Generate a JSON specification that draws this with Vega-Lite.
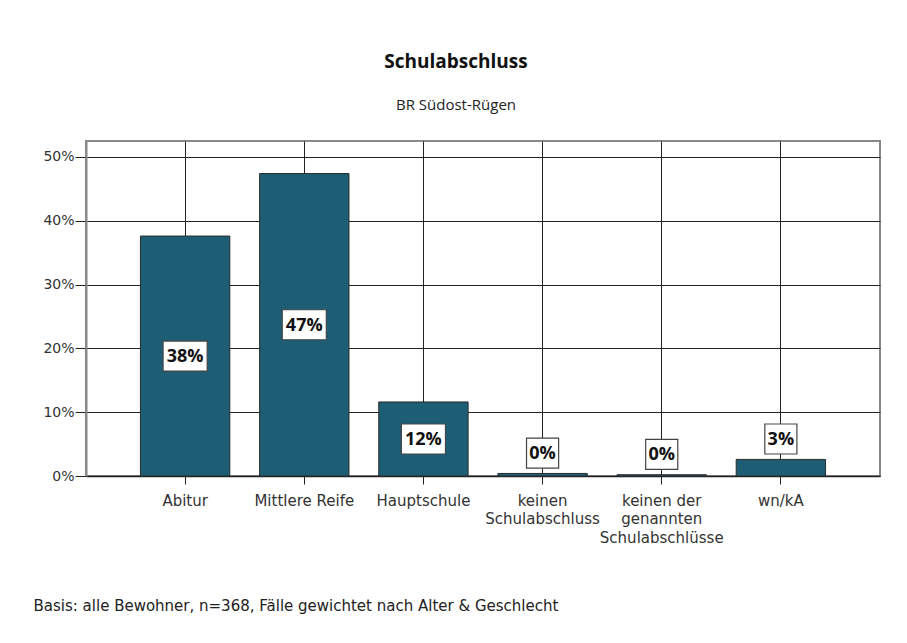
{
  "$schema": "https://vega.github.io/schema/vega-lite/v6.json",
  "autosize": {"type": "none"},
  "width": 794,
  "height": 335,
  "padding": {"left": 86, "top": 141, "right": 27, "bottom": 167},
  "background": "white",
  "title": {
    "text": "Schulabschluss",
    "subtitle": "BR Südost-Rügen",
    "anchor": "middle",
    "dx": -27,
    "offset": 28,
    "font": "Open Sans",
    "fontSize": 19,
    "fontWeight": "bold",
    "color": "#111",
    "subtitleFont": "Open Sans",
    "subtitleFontSize": 15,
    "subtitleColor": "#222",
    "subtitlePadding": 26
  },
  "data": {
    "values": [
      {"cat": "Abitur", "v": 0.376},
      {"cat": "Mittlere Reife", "v": 0.474},
      {"cat": "Hauptschule", "v": 0.116},
      {"cat": "keinen Schulabschluss", "v": 0.004},
      {"cat": "keinen der genannten Schulabschlüsse", "v": 0.002},
      {"cat": "wn/kA", "v": 0.026}
    ]
  },
  "transform": [
    {"calculate": "datum.v > 0.05 ? datum.v / 2 : datum.v + 0.032", "as": "ly"}
  ],
  "encoding": {
    "x": {
      "field": "cat",
      "type": "nominal",
      "sort": null,
      "scale": {"paddingInner": 0.25, "paddingOuter": 0.457},
      "axis": {
        "title": "Basis: alle Bewohner, n=368, Fälle gewichtet nach Alter & Geschlecht",
        "titleFont": "DejaVu Sans",
        "titleFontSize": 15,
        "titleFontWeight": "normal",
        "titleColor": "#222",
        "titleAnchor": "start",
        "titleAlign": "left",
        "titleBaseline": "alphabetic",
        "titleX": -53,
        "titleY": 134,
        "labelAngle": 0,
        "labelFont": "DejaVu Sans",
        "labelFontSize": 15,
        "labelColor": "#333",
        "labelPadding": 9,
        "labelLineHeight": 18.5,
        "labelExpr": "datum.value == 'keinen Schulabschluss' ? ['keinen', 'Schulabschluss'] : datum.value == 'keinen der genannten Schulabschlüsse' ? ['keinen der', 'genannten', 'Schulabschlüsse'] : datum.value",
        "bandPosition": 0.5,
        "grid": true,
        "gridColor": "#222",
        "gridWidth": 1,
        "gridOpacity": 1,
        "tickColor": "#222",
        "tickSize": 8,
        "domainColor": "#222",
        "domainWidth": 1.5
      }
    }
  },
  "layer": [
    {
      "mark": {"type": "bar", "fill": "#1e5e75", "stroke": "#2a2a2a", "strokeWidth": 1},
      "encoding": {
        "y": {
          "field": "v",
          "type": "quantitative",
          "scale": {"domain": [0, 0.525], "nice": false},
          "axis": {
            "title": null,
            "values": [0, 0.1, 0.2, 0.3, 0.4, 0.5],
            "format": ".0%",
            "labelFont": "DejaVu Sans",
            "labelFontSize": 14,
            "labelColor": "#333",
            "labelPadding": 1,
            "tickSize": 11,
            "tickColor": "#222",
            "grid": true,
            "gridColor": "#222",
            "gridOpacity": 1,
            "gridWidth": 1,
            "domainColor": "#888",
            "domainWidth": 2
          }
        }
      }
    },
    {
      "mark": {"type": "point", "filled": true, "fill": "white", "stroke": "#444", "strokeWidth": 1.2, "opacity": 1, "size": 900},
      "encoding": {
        "y": {"field": "ly", "type": "quantitative"},
        "shape": {
          "condition": {"test": "datum.v >= 0.095", "value": "M-1.47,-1H1.47V1H-1.47Z"},
          "value": "M-1.07,-1H1.07V1H-1.07Z"
        }
      }
    },
    {
      "mark": {"type": "text", "font": "Open Sans", "fontSize": 18, "fontWeight": "bold", "color": "#111", "baseline": "middle", "dy": 1},
      "encoding": {
        "y": {"field": "ly", "type": "quantitative"},
        "text": {"field": "v", "type": "quantitative", "format": ".0%"}
      }
    }
  ],
  "config": {
    "view": {"stroke": "#888", "strokeWidth": 2}
  }
}
